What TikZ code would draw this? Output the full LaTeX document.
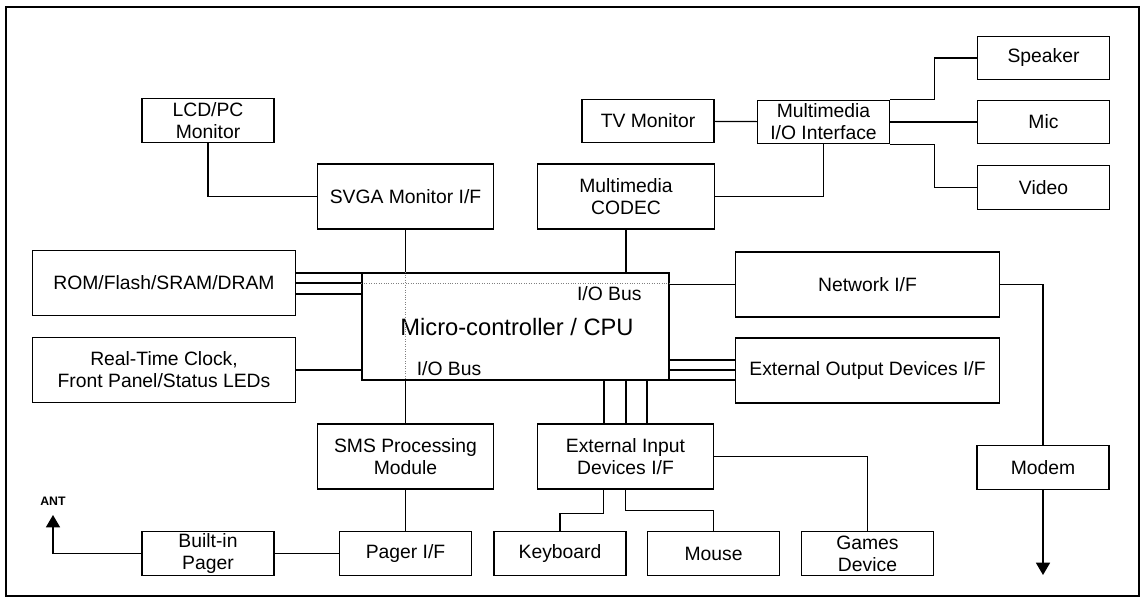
\documentclass[tikz,border=0pt]{standalone}
\usepackage{fontspec}
\setmainfont{Liberation Sans}
\usetikzlibrary{arrows.meta,calc}

\tikzset{
  blk/.style={rectangle, draw, align=center, inner sep=1pt, font=\fontsize{11}{12.5}\selectfont},
  sblk/.style={blk, minimum width=2.64cm, minimum height=0.87cm},
  mblk/.style={blk, minimum width=3.53cm, minimum height=1.3cm},
  wblk/.style={blk, minimum width=5.27cm, minimum height=1.3cm},
  bus/.style={densely dotted, gray, line width=0.4pt},
}

\begin{document}
\begin{tikzpicture}[x=0.02cm, y=-0.02cm, line width=0.7pt, >={Triangle[length=7pt,width=8pt]}]
  \useasboundingbox (0,0) rectangle (1142,598);
  \draw (6,7) rectangle (1139,596);

  % Nodes
  \node[sblk] (lcd) at (208,120.5) {LCD/PC\\Monitor};
  \node[mblk] (svga) at (405.5,196.5) {SVGA Monitor I/F};
  \node[sblk] (tv) at (648,121) {TV Monitor};
  \node[sblk] (mio) at (823.5,122) {Multimedia\\I/O Interface};
  \node[mblk] (codec) at (626,196.5) {Multimedia\\CODEC};
  \node[sblk] (spk) at (1043.5,58) {Speaker};
  \node[sblk] (mic) at (1043.5,122) {Mic};
  \node[sblk] (video) at (1043.5,187.5) {Video};
  \node[wblk] (mem) at (164,283) {ROM/Flash/SRAM/DRAM};
  \node[wblk] (rtc) at (164,370) {Real-Time Clock,\\Front Panel/Status LEDs};
  \node[blk, minimum width=6.14cm, minimum height=2.14cm] (cpu) at (515.5,326.5) {};
  \node[font=\fontsize{13.5}{15}\selectfont] (cpulbl) at (517,327) {Micro-controller / CPU};
  \node[wblk] (net) at (867.5,284.5) {Network I/F};
  \node[wblk] (extout) at (867.5,370.5) {External Output Devices I/F};
  \node[sblk] (modem) at (1043,467.5) {Modem};
  \node[mblk] (sms) at (405.5,456.5) {SMS Processing\\Module};
  \node[mblk] (extin) at (625.5,456.5) {External Input\\Devices I/F};
  \node[sblk] (pager) at (405.5,553.5) {Pager I/F};
  \node[sblk] (bpager) at (208,553.5) {Built-in\\Pager};
  \node[sblk] (kbd) at (560,553.5) {Keyboard};
  \node[sblk] (mouse) at (713.5,553.5) {Mouse};
  \node[sblk] (games) at (867.5,553.5) {Games\\Device};

  % bus labels
  \node[font=\fontsize{11}{12.5}\selectfont, anchor=east] (iotop) at (648,294) {I/O Bus};
  \node[font=\fontsize{11}{12.5}\selectfont] (iobot) at (449,369) {I/O Bus};
  \coordinate (ant) at (53,515);
  \node[font=\fontsize{7}{8}\selectfont\bfseries, above=2pt] (antlbl) at (ant) {ANT};
  \coordinate (modemout) at (1043,575);

  % Edges
  \draw (lcd) |- (svga);
  \draw (tv) -- (mio);
  \draw (codec) -| (mio);
  \draw (mio.north east) -- ++(44,0) |- (spk);
  \draw (mio) -- (mic);
  \draw (mio.south east) -- ++(44,0) |- (video);
  \draw (svga) -- (svga |- cpu.north);
  \draw (codec) -- (codec |- cpu.north);
  \foreach \y in {273,283,294}
    \draw (mem.east |- 0,\y) -- (cpu.west |- 0,\y);
  \draw (rtc) -- (rtc -| cpu.west);
  \draw (net) -- (net -| cpu.east);
  \foreach \y in {360,370,380}
    \draw (extout.west |- 0,\y) -- (cpu.east |- 0,\y);
  \draw[bus] (cpu.west |- 0,283) -- (cpu.east |- 0,283);
  \draw[bus] (cpu.north -| svga) -- (cpu.south -| svga);
  \draw (cpu.south -| sms) -- (sms);
  \foreach \x in {604,626,647}
    \draw (cpu.south -| \x,0) -- (extin.north -| \x,0);
  \draw (sms) -- (pager);
  \draw (pager) -- (bpager);
  \draw[->] (bpager) -| (ant);
  \draw (net) -| (modem);
  \draw[->] (modem) -- (modemout);
  \draw ($(extin.south)+(-22,0)$) -- ++(0,24) -| (kbd);
  \draw (extin.south) -- ++(0,21) -| (mouse);
  \draw (extin) -| (games);
\end{tikzpicture}
\end{document}
